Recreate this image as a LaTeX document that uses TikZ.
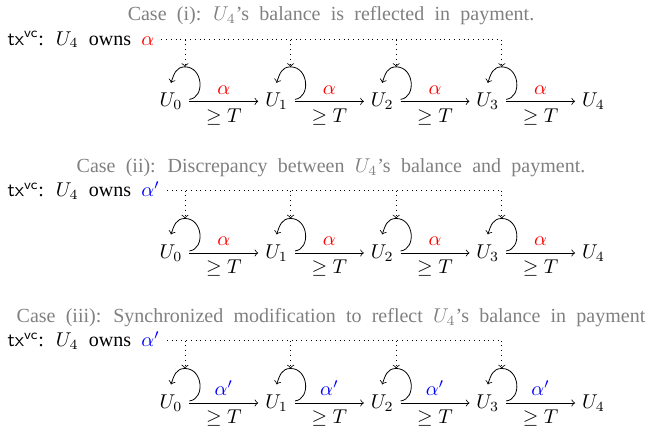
\documentclass[tikz,border=0pt]{standalone}
\usepackage{fontspec}
\setmainfont{Liberation Serif}[WordSpace={2.05,1,1}]
\usetikzlibrary{calc}
\tikzset{
  unode/.style={inner sep=0.3333em, anchor=base},
  flow/.style={->},
  selfloop/.style={->},
  feed/.style={dotted,->},
  feedline/.style={dotted},
  captext/.style={anchor=base, text=gray, inner sep=0pt},
  owner/.style={anchor=base west},
  uplbl/.style={midway, above},
  lowlbl/.style={midway, below},
}
\newcommand{\drawpanel}[5]{%
\begin{scope}[shift={(0,#1)}]
  \node[captext] (#2cap) at (331,20.7) {#3};
  \node[owner] (#2tx) at (0.5,45) {\textsf{tx}$^{\mbox{\sffamily\scriptsize vc}}$: $U_4$ owns #4};
  \foreach \i/\xx in {0/171,1/276.6,2/382.2,3/487.8,4/593.4}
    \node[unode] (#2u\i) at (\xx,106.7) {$U_{\i}$};
  \foreach \i/\j in {0/1,1/2,2/3,3/4}
    \draw[flow] (#2u\i) -- node[uplbl] {#5} node[lowlbl] {$\geq T$} (#2u\j);
  \foreach \i in {0,1,2,3}{
    \draw[selfloop] ($(#2u\i.east)+(0,-2)$) .. controls +(16,-2) and +(18,0) ..
      ($(#2u\i)+(14,-34.5)$) coordinate (#2t\i)
      .. controls +(-9,0) and +(3,-9) .. ($(#2u\i)+(0,-18.5)$);
  }
  \draw[feedline] (#2tx.east) -- (#2tx.east -| #2t3);
  \foreach \i in {0,1,2,3}
    \draw[feed] (#2tx.east -| #2t\i) -- (#2t\i);
\end{scope}}
\begin{document}
\begin{tikzpicture}[x=0.5pt, y=-0.5pt]
  \useasboundingbox (0,0) rectangle (651,428);
  \drawpanel{0}{a}{Case (i): $U_4$'s balance is reflected in payment.}{\textcolor{red}{$\alpha$}}{\textcolor{red}{$\alpha$}}
  \drawpanel{151.6}{b}{Case (ii): Discrepancy between $U_4$'s balance and payment.}{\textcolor{blue}{$\alpha'$}}{\textcolor{red}{$\alpha$}}
  \drawpanel{301.6}{c}{Case (iii): Synchronized modification to reflect $U_4$'s balance in payment}{\textcolor{blue}{$\alpha'$}}{\textcolor{blue}{$\alpha'$}}
\end{tikzpicture}
\end{document}
